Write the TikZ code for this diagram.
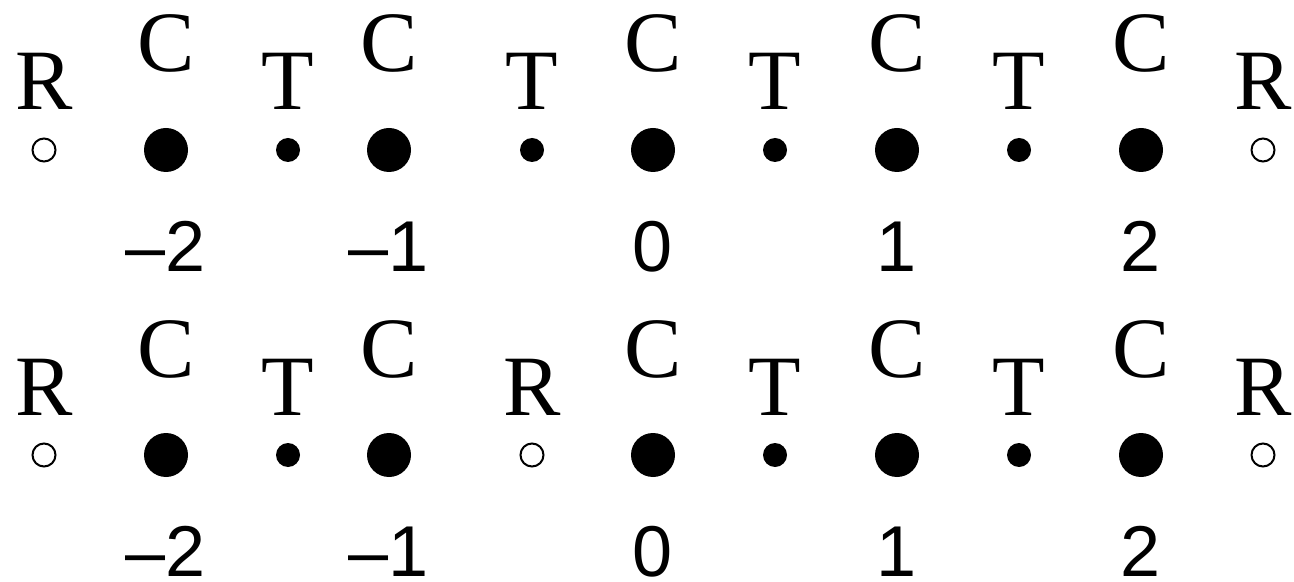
\documentclass[tikz,border=0pt]{standalone}
\usepackage{fontspec}
\setmainfont{Liberation Serif}
\newfontfamily\numfont{Liberation Sans}
\begin{document}
\begin{tikzpicture}[x=0.5pt,y=-0.5pt,
  lett/.style={inner sep=0pt, anchor=base, font=\fontsize{43}{43}\selectfont},
  num/.style={inner sep=0pt, anchor=base, text depth=0pt, font=\numfont\fontsize{36}{36}\selectfont},
  cdot/.style={circle, fill=black, inner sep=0pt, minimum size=22pt},
  tdot/.style={circle, fill=black, inner sep=0pt, minimum size=12pt},
  rdot/.style={circle, draw=black, line width=1pt, fill=white, inner sep=0pt, minimum size=11.5pt}]
\useasboundingbox (0,0) rectangle (1294,582);
% row 1
\foreach \k/\x/\ly/\ds [count=\i] in {R/44/110/rdot, C/166/72/cdot, T/288/110/tdot, C/389/72/cdot, T/532/110/tdot, C/653/72/cdot, T/775/110/tdot, C/897/72/cdot, T/1019/110/tdot, C/1141/72/cdot, R/1263/110/rdot}{
  \node[\ds] (da\i) at (\x,150) {};
  \node[lett] (la\i) at (\x,\ly) {\k};
}
\foreach \x/\n [count=\i] in {166/{–2}, 389/{–1}, 653/0, 897/1, 1141/2}{
  \node[num] (na\i) at (\x,272) {\n};
}
% row 2
\foreach \k/\x/\ly/\ds [count=\i] in {R/44/110/rdot, C/166/72/cdot, T/288/110/tdot, C/389/72/cdot, R/532/110/rdot, C/653/72/cdot, T/775/110/tdot, C/897/72/cdot, T/1019/110/tdot, C/1141/72/cdot, R/1263/110/rdot}{
  \node[\ds] (db\i) at (\x,455) {};
  \node[lett] (lb\i) at (\x,\ly+305) {\k};
}
\foreach \x/\n [count=\i] in {166/{–2}, 389/{–1}, 653/0, 897/1, 1141/2}{
  \node[num] (nb\i) at (\x,576) {\n};
}
\end{tikzpicture}
\end{document}
